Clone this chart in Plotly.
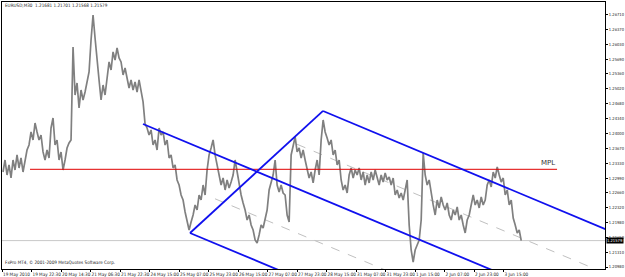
import plotly.graph_objects as go

# ---------------- data ----------------
closes = [
    1.23135, 1.23407, 1.23067, 1.23294, 1.22999, 1.23407, 1.23180, 1.23521, 1.23226, 1.23453,
    1.23135, 1.23407, 1.23634, 1.23747, 1.24042, 1.23861, 1.24246, 1.24042, 1.23861, 1.23974,
    1.23589, 1.23407, 1.23634, 1.23453, 1.24133, 1.24360, 1.23747, 1.23861, 1.23407, 1.23589,
    1.23180, 1.23407, 1.23679, 1.23793, 1.23861, 1.25970, 1.24881, 1.25154, 1.24587, 1.24995,
    1.24768, 1.24949, 1.25222, 1.25403, 1.26129, 1.26696, 1.26174, 1.25630, 1.25222, 1.24768,
    1.25108, 1.24881, 1.25290, 1.25630, 1.25448, 1.25857, 1.25675, 1.25947, 1.25721, 1.25630,
    1.25335, 1.25494, 1.25267, 1.25040, 1.25222, 1.24995, 1.25176, 1.24949, 1.25222, 1.24995,
    1.24723, 1.24224, 1.24133, 1.23974, 1.24088, 1.23747, 1.23861, 1.23634, 1.24133, 1.23974,
    1.24042, 1.23747, 1.23861, 1.23453, 1.23521, 1.23226, 1.23294, 1.22954, 1.22840, 1.22613,
    1.22500, 1.22228, 1.22001, 1.21820, 1.22001, 1.22160, 1.22387, 1.22273, 1.22613, 1.22500,
    1.22840, 1.22613, 1.23180, 1.23521, 1.23679, 1.23861, 1.23521, 1.23294, 1.22999, 1.22840,
    1.22999, 1.22727, 1.22954, 1.22772, 1.22908, 1.23067, 1.23407, 1.23135, 1.22840, 1.22613,
    1.22432, 1.22273, 1.22046, 1.22160, 1.21933, 1.21820, 1.21593, 1.21525, 1.21706, 1.21933,
    1.21865, 1.22092, 1.22273, 1.22727, 1.22908, 1.23067, 1.23407, 1.22840, 1.22681, 1.22840,
    1.22659, 1.22613, 1.22160, 1.22001, 1.23521, 1.23747, 1.23929, 1.23589, 1.23679, 1.23453,
    1.23634, 1.23407, 1.23226, 1.22999, 1.23135, 1.22886, 1.23180, 1.23407, 1.23067, 1.23861,
    1.24314, 1.24042, 1.23906, 1.23747, 1.23861, 1.23521, 1.23634, 1.23294, 1.23407, 1.22954,
    1.22727, 1.22840, 1.22659, 1.23067, 1.23226, 1.22999, 1.23180, 1.23067, 1.23226, 1.22954,
    1.23135, 1.22840, 1.23067, 1.22886, 1.23135, 1.22954, 1.23180, 1.22999, 1.22840, 1.23067,
    1.22908, 1.23112, 1.22954, 1.23022, 1.22840, 1.22999, 1.22613, 1.22727, 1.22545, 1.22659,
    1.22500, 1.22727, 1.22954, 1.21933, 1.21366, 1.21094, 1.21366, 1.21479, 1.21593, 1.22046,
    1.23566, 1.23067, 1.22840, 1.22954, 1.22613, 1.22387, 1.22160, 1.22500, 1.22319, 1.22568,
    1.22387, 1.22273, 1.22432, 1.22160, 1.22046, 1.22273, 1.22160, 1.22341, 1.22046, 1.22160,
    1.21933, 1.21752, 1.22046, 1.22160, 1.22387, 1.22613, 1.22387, 1.22500, 1.22319, 1.22568,
    1.22387, 1.22500, 1.22840, 1.22954, 1.22795, 1.23135, 1.22999, 1.23248, 1.23067, 1.22908,
    1.22999, 1.22613, 1.22727, 1.22387, 1.22500, 1.22092, 1.21933, 1.21752, 1.21820, 1.21579,
]
SAMPLE_STEP = 2.17   # M30 bars between samples
FIRST_BAR = 1.1

date_labels = ["19 May 2010", "19 May 22:30", "20 May 14:30", "21 May 06:30", "21 May 22:30",
               "24 May 15:00", "25 May 07:00", "25 May 23:00", "26 May 15:00", "27 May 07:00",
               "27 May 23:00", "28 May 15:00", "31 May 07:00", "31 May 23:00", "1 Jun 15:00",
               "2 Jun 07:00", "2 Jun 23:00", "3 Jun 15:00"]
BARS_PER_LABEL = 32

price_ticks = [1.26710, 1.26370, 1.26030, 1.25690, 1.25360, 1.25020, 1.24680, 1.24340, 1.24000,
               1.23670, 1.23330, 1.22990, 1.22660, 1.22320, 1.21980, 1.21650, 1.21310, 1.20980]

bid = 1.21579
header = "EURUSD,M30  1.21681 1.21701 1.21568 1.21579"
copyright_txt = "FxPro MT4, \u00a9 2001-2009 MetaQuotes Software Corp."

mpl_level = 1.23196
mpl_start, mpl_end = 30.4, 602.0

# channel pivots (bar, price)
pivot_bars = [152.9, 203.9, 348.2]
pivot_prices = [1.24224, 1.21752, 1.24519]
channel_slope = -0.0000875       # price per bar
mid_upper_start = 320.0
mid_lower_start = 231.0

X_MIN, X_MAX = 0.0, 654.0
Y_MIN, Y_MAX = 1.20935, 1.26990

# ---------------- figure ----------------
bars = [FIRST_BAR + i * SAMPLE_STEP for i in range(len(closes))]
x_end = X_MAX + 20

def ray(b0, p0, b1):
    return [b0, b1], [p0, p0 + channel_slope * (b1 - b0)]

fig = go.Figure()

fig.add_trace(go.Scatter(x=[X_MIN, X_MAX], y=[bid, bid], mode="lines",
                         line=dict(color="#c8c8c8", width=1), hoverinfo="skip"))

pb, pp = pivot_bars, pivot_prices
def mid_ad(b):
    return ((pp[0] + channel_slope * (b - pb[0])) + (pp[2] + channel_slope * (b - pb[2]))) / 2
def mid_ab(b):
    return ((pp[0] + channel_slope * (b - pb[0])) + (pp[1] + channel_slope * (b - pb[1]))) / 2

fig.add_trace(go.Scatter(x=[mid_upper_start, x_end], y=[mid_ad(mid_upper_start), mid_ad(x_end)],
                         mode="lines", line=dict(color="#c0c0c0", width=1, dash="dash"),
                         hoverinfo="skip"))
fig.add_trace(go.Scatter(x=[mid_lower_start, x_end], y=[mid_ab(mid_lower_start), mid_ab(x_end)],
                         mode="lines", line=dict(color="#c0c0c0", width=1, dash="dash"),
                         hoverinfo="skip"))

fig.add_trace(go.Scatter(x=bars, y=closes, mode="lines",
                         line=dict(color="#808080", width=1.7), hoverinfo="skip"))

fig.add_trace(go.Scatter(x=[mpl_start, mpl_end], y=[mpl_level, mpl_level], mode="lines",
                         line=dict(color="#e00000", width=1), hoverinfo="skip"))

blue = dict(color="#1010ee", width=1.8)
for (b0, p0) in zip(pb, pp):
    xs, ys = ray(b0, p0, x_end)
    fig.add_trace(go.Scatter(x=xs, y=ys, mode="lines", line=blue, hoverinfo="skip"))
fig.add_trace(go.Scatter(x=[pb[1], pb[2]], y=[pp[1], pp[2]], mode="lines", line=blue,
                         hoverinfo="skip"))

COND = "DejaVu Sans Condensed, Liberation Sans Narrow, DejaVu Sans"
tiny = dict(family=COND, size=4.6, color="#222222")
bid_txt = f"{bid:.5f}"

fig.update_layout(
    width=625, height=277,
    margin=dict(l=2, r=20, t=2, b=8, autoexpand=False),
    paper_bgcolor="white", plot_bgcolor="white",
    showlegend=False,
    xaxis=dict(range=[X_MIN, X_MAX], showgrid=False, zeroline=False,
               showline=True, mirror=True, linecolor="black", linewidth=1,
               ticks="outside", ticklen=2, tickcolor="black", tickangle=0,
               automargin=False,
               tickvals=[BARS_PER_LABEL * k for k in range(len(date_labels))],
               ticktext=date_labels, ticklabelposition="outside right",
               ticklabelstandoff=0, tickfont=tiny),
    yaxis=dict(range=[Y_MIN, Y_MAX], side="right", showgrid=False, zeroline=False,
               showline=True, mirror=True, linecolor="black", linewidth=1,
               ticks="outside", ticklen=2, tickcolor="black", automargin=False,
               ticklabelstandoff=0,
               tickvals=price_ticks, ticktext=[f"{v:.5f}" for v in price_ticks],
               tickfont=dict(family=COND, size=4.1, color="#222222")),
    annotations=[
        dict(xref="paper", yref="paper", x=0.002, y=0.988, xanchor="left", yanchor="middle",
             text=header, showarrow=False, font=tiny),
        dict(xref="paper", yref="paper", x=0.002, y=0.026, xanchor="left", yanchor="middle",
             text=copyright_txt, showarrow=False, font=tiny),
        dict(x=592, y=mpl_level, yshift=6, text="MPL", showarrow=False,
             font=dict(family="DejaVu Sans", size=7, color="#333333")),
        dict(xref="paper", x=1.0, y=bid, xanchor="left", yanchor="middle", text=bid_txt,
             showarrow=False, bgcolor="black", borderpad=0, xshift=1,
             font=dict(family=COND, size=4.1, color="white")),
    ],
)

fig.write_html("out.html")
